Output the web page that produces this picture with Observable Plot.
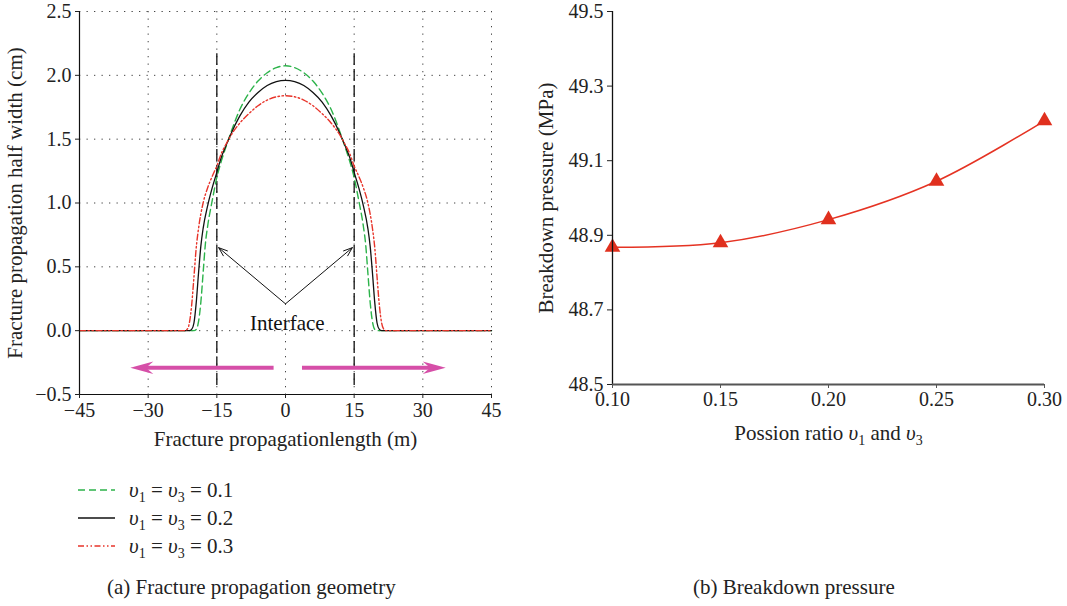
<!DOCTYPE html>
<html><head><meta charset="utf-8">
<script src="https://cdn.jsdelivr.net/npm/d3@7"></script>
<script src="https://cdn.jsdelivr.net/npm/@observablehq/plot@0.6"></script>
<style>
body{margin:0;background:#fff;font-family:"Liberation Serif",serif;color:#222}
#wrap{position:relative;width:1067px;height:606px;overflow:hidden;background:#fff}
.abs{position:absolute}
.leg{position:absolute;left:78px;font-size:21px;line-height:28px}
.leg div{height:28px;display:flex;align-items:center}
.leg svg{margin-right:13px}
.leg sub{font-size:14px;vertical-align:-5px;line-height:0}
.cap{position:absolute;top:575px;font-size:21px;white-space:nowrap}
</style></head><body>
<div id="wrap">
  <div id="left" class="abs" style="left:0;top:0"></div>
  <div id="right" class="abs" style="left:520px;top:0"></div>
  <div id="legend" class="leg" style="top:476px"></div>
  <div class="cap" style="left:107px">(a) Fracture propagation geometry</div>
  <div class="cap" style="left:693px">(b) Breakdown pressure</div>
</div>
<script>
// ---------- Data: panel (a) ----------
const seriesNames = ["0.1", "0.2", "0.3"];
const seriesColors = ["#2cb34a", "#111111", "#e8342a"];
const seriesDash = ["7,4", "none", "6,2.5,1.5,2.5,1.5,2.5"];

const x01 = [-45,-25,-20,-19.5,-19,-18.5,-18,-17.5,-17,-16,-15,-14,-13,-12,-10,-8,-6,-4,-2,0,2,4,6,8,10,12,13,14,15,16,17,17.5,18,18.5,19,19.5,20,25,45];
const w01 = [0,0,0,0.01,0.07,0.22,0.45,0.68,0.82,1.02,1.20,1.33,1.44,1.545,1.73,1.86,1.955,2.02,2.06,2.075,2.06,2.02,1.955,1.86,1.73,1.545,1.44,1.33,1.20,1.02,0.82,0.68,0.45,0.22,0.07,0.01,0,0,0];

const x02 = [-45,-25,-21,-20.5,-20,-19.5,-19,-18.5,-18,-17,-16,-15,-14,-13,-12,-10,-8,-6,-4,-2,0,2,4,6,8,10,12,13,14,15,16,17,18,18.5,19,19.5,20,20.5,21,25,45];
const w02 = [0,0,0,0.01,0.06,0.22,0.45,0.66,0.80,0.98,1.12,1.24,1.36,1.45,1.535,1.68,1.79,1.865,1.92,1.95,1.96,1.95,1.92,1.865,1.79,1.68,1.535,1.45,1.36,1.24,1.12,0.98,0.80,0.66,0.45,0.22,0.06,0.01,0,0,0];

const x03 = [-45,-25,-22,-21.5,-21,-20.5,-20,-19.5,-19,-18,-17,-16,-15,-14,-13,-12,-10,-8,-6,-4,-2,0,2,4,6,8,10,12,13,14,15,16,17,18,19,19.5,20,20.5,21,21.5,22,25,45];
const w03 = [0,0,0,0.01,0.06,0.20,0.42,0.65,0.80,1.00,1.12,1.21,1.29,1.39,1.46,1.525,1.625,1.70,1.762,1.806,1.832,1.84,1.832,1.806,1.762,1.70,1.625,1.525,1.46,1.39,1.29,1.21,1.12,1.00,0.80,0.65,0.42,0.20,0.06,0.01,0,0,0];

const xTicksA = [-45,-30,-15,0,15,30,45];
const yTicksA = [-0.5,0,0.5,1,1.5,2,2.5];
const interfaceX = [-15, 15];

// ---------- Data: panel (b) ----------
const ratio = [0.10, 0.15, 0.20, 0.25, 0.30];
const pressure = [48.868, 48.880, 48.942, 49.045, 49.207];
const xTicksB = [0.10, 0.15, 0.20, 0.25, 0.30];
const yTicksB = [48.5, 48.7, 48.9, 49.1, 49.3, 49.5];

// ---------- Build panel (a) ----------
const curves = [];
[[x01,w01],[x02,w02],[x03,w03]].forEach(([xs,ws],k) => {
  xs.forEach((x,i) => curves.push({series: seriesNames[k], k, x, w: ws[i]}));
});
const FONT = "Liberation Serif, serif";

const calloutArrows = [
  {x1: 0, y1: 0.21, x2: -14.6, y2: 0.65},
  {x1: 0, y1: 0.21, x2: 14.6, y2: 0.65}
];
// propagation-direction arrows: shafts and arrowhead tips
const propShafts = [
  {x1: -2.6, x2: -31.5, y: -0.29},
  {x1: 3.6, x2: 32.6, y: -0.29}
];
const propHeads = [
  {x: -33.9, y: -0.29, angle: 180},
  {x: 35.0, y: -0.29, angle: 0}
];
// stealth-shaped arrowhead symbol, tip at the origin, pointing right
const stealth = {
  draw(ctx, size) {
    const L = Math.sqrt(size / Math.PI);
    ctx.moveTo(0, 0);
    ctx.lineTo(-L, -0.27 * L);
    ctx.lineTo(-0.68 * L, 0);
    ctx.lineTo(-L, 0.27 * L);
    ctx.closePath();
  }
};

const left = Plot.plot({
  width: 520, height: 460,
  marginLeft: 79, marginRight: 29, marginTop: 11, marginBottom: 66,
  style: {fontFamily: FONT, fontSize: "20px", color: "#222", background: "transparent"},
  x: {domain: [-45, 45], ticks: xTicksA},
  y: {domain: [-0.5, 2.5], ticks: yTicksA},
  marks: [
    Plot.gridX(xTicksA.slice(1), {stroke: "#444", strokeOpacity: 1, strokeDasharray: "1.3,6.2"}),
    Plot.gridY(yTicksA.slice(1), {stroke: "#444", strokeOpacity: 1, strokeDasharray: "1.3,6.2"}),
    Plot.ruleX(interfaceX, {y1: -0.43, y2: 2.17, stroke: "#111", strokeWidth: 1.3, strokeDasharray: "12,4"}),
    ...[0,1,2].map(k => Plot.line(curves.filter(d => d.k === k), {
      x: "x", y: "w", curve: "monotone-x", stroke: seriesColors[k],
      strokeWidth: k === 1 ? 1.3 : 1.4, strokeDasharray: seriesDash[k]
    })),
    Plot.arrow(calloutArrows, {x1: "x1", y1: "y1", x2: "x2", y2: "y2", stroke: "#111", strokeWidth: 1, headLength: 14, headAngle: 40}),
    Plot.text(["Interface"], {x: 0.4, y: 0.06, text: d => d, fontSize: 21, fill: "#111", fontFamily: FONT}),
    Plot.link(propShafts, {x1: "x1", x2: "x2", y1: "y", y2: "y", stroke: "#d64fa8", strokeWidth: 4}),
    Plot.dot(propHeads, {x: "x", y: "y", rotate: "angle", symbol: stealth, r: 23, fill: "#d64fa8", stroke: "none"}),
    Plot.ruleX([-45], {stroke: "#111", strokeWidth: 1.2}),
    Plot.ruleY([-0.5], {stroke: "#111", strokeWidth: 1.2}),
    Plot.axisX({ticks: xTicksA, tickSize: 4, tickPadding: 4, tickFormat: d => d3.format("d")(d),
      label: "Fracture propagationlength (m)", labelAnchor: "center", labelArrow: "none", labelOffset: 51, fontSize: 20, color: "#222"}),
    Plot.axisY({ticks: yTicksA, tickSize: 4, tickPadding: 4, tickFormat: d3.format(".1f"),
      label: "Fracture propagation half width (cm)", labelAnchor: "center", labelArrow: "none", labelOffset: 72, fontSize: 20, color: "#222"})
  ]
});
document.getElementById("left").appendChild(left);

// ---------- Build panel (b) ----------
const pts = ratio.map((r,i) => ({r, p: pressure[i]}));
const right = Plot.plot({
  width: 547, height: 460,
  marginLeft: 92, marginRight: 23, marginTop: 11, marginBottom: 76,
  style: {fontFamily: FONT, fontSize: "20px", color: "#222", background: "transparent"},
  x: {domain: [0.10, 0.30], ticks: xTicksB},
  y: {domain: [48.5, 49.5], ticks: yTicksB},
  marks: [
    Plot.line(pts, {x: "r", y: "p", curve: "catmull-rom", stroke: "#e53323", strokeWidth: 1.5}),
    Plot.dot(pts, {x: "r", y: "p", symbol: "triangle", r: 5.8, fill: "#e0301e", stroke: "none"}),
    Plot.ruleX([0.10], {stroke: "#111", strokeWidth: 1.3}),
    Plot.ruleY([48.5], {stroke: "#555", strokeWidth: 2}),
    Plot.axisX({ticks: xTicksB, tickSize: 4, tickPadding: 3, tickFormat: d3.format(".2f"), stroke: "#555",
      label: "Possion ratio υ1 and υ3", labelAnchor: "center", labelArrow: "none", labelOffset: 55, fontSize: 20, color: "#222"}),
    Plot.axisY({ticks: yTicksB, tickSize: 5, tickPadding: 4, tickFormat: d3.format(".1f"),
      label: "Breakdown pressure (MPa)", labelAnchor: "center", labelArrow: "none", labelOffset: 74, fontSize: 20, color: "#222"})
  ]
});
document.getElementById("right").appendChild(right);

// axis-label font size, subscripts and italics
[left, right].forEach(svg => svg.querySelectorAll("text").forEach(t => {
  const s = t.textContent;
  if (s.startsWith("Fracture") || s.startsWith("Breakdown") || s.startsWith("Possion")) t.setAttribute("font-size", "21");
}));
right.querySelectorAll("text").forEach(t => {
  if (t.textContent.startsWith("Possion")) {
    t.textContent = "";
    const NS = "http://www.w3.org/2000/svg";
    const parts = [["Possion ratio ", null], ["υ", "i"], ["1", "s"], [" and ", "b"], ["υ", "i"], ["3", "s"]];
    parts.forEach(([s, kind]) => {
      const ts = document.createElementNS(NS, "tspan");
      ts.textContent = s;
      if (kind === "i") ts.setAttribute("font-style", "italic");
      if (kind === "s") { ts.setAttribute("font-size", "14"); ts.setAttribute("dy", "5"); }
      if (kind === "b") ts.setAttribute("dy", "-5");
      t.appendChild(ts);
    });
  }
});

// ---------- Legend for panel (a) ----------
const leg = document.getElementById("legend");
seriesNames.forEach((name, k) => {
  const row = document.createElement("div");
  row.innerHTML = `<svg width="38" height="10"><line x1="0" x2="37" y1="5" y2="5" stroke="${seriesColors[k]}" stroke-width="1.4" stroke-dasharray="${seriesDash[k]}"/></svg>` +
    `<span><i>υ</i><sub>1</sub> = <i>υ</i><sub>3</sub> = ${name}</span>`;
  leg.appendChild(row);
});
</script>
</body></html>
